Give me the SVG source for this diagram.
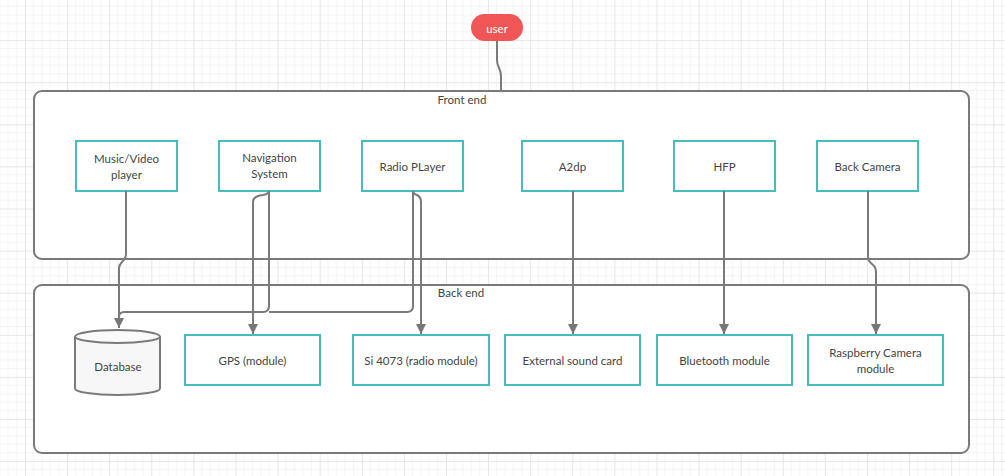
<svg xmlns="http://www.w3.org/2000/svg" width="1005" height="476" viewBox="0 0 1005 476">
<defs>
<pattern id="grid" patternUnits="userSpaceOnUse" x="25" y="-2" width="42.1" height="42.1">
<path d="M8.42 0V42.1M16.84 0V42.1M25.26 0V42.1M33.68 0V42.1M0 8.42H42.1M0 16.84H42.1M0 25.26H42.1M0 33.68H42.1" stroke="#f4f4f4" stroke-width="1" fill="none"/>
<path d="M0.5 0V42.1M0 0.5H42.1" stroke="#e6e6e6" stroke-width="1" fill="none"/>
</pattern>
<marker id="arr" markerWidth="12" markerHeight="10" refX="10" refY="5" orient="auto" markerUnits="userSpaceOnUse">
<path d="M0,0 L10,5 L0,10 Z" fill="#777"/>
</marker>
<style>
.box{fill:#fff;stroke:#45bdbd;stroke-width:2}
.cont{fill:#fff;stroke:#7a7a7a;stroke-width:2}
.t{font-family:Lato,"Liberation Sans",sans-serif;font-size:11.5px;fill:#444;text-anchor:middle}
.c{fill:none;stroke:#7a7a7a;stroke-width:2}
</style>
</defs>
<rect width="1005" height="476" fill="#fff"/>
<rect width="1005" height="476" fill="url(#grid)"/>

<g id="frontend">
<rect class="cont" x="34" y="91" width="935" height="168" rx="8"/>
<text class="t" x="462" y="104">Front end</text>
</g>
<g id="backend">
<rect class="cont" x="34" y="285" width="935" height="168" rx="8"/>
<text class="t" x="461" y="297">Back end</text>
</g>

<g id="user">
<rect x="471" y="14" width="52" height="27" rx="13.5" fill="#f05656"/>
<text class="t" x="497" y="33" style="fill:#fff">user</text>
</g>

<g id="music"><rect class="box" x="76" y="141" width="101" height="50"/><text class="t" x="126.5" y="163">Music/Video</text><text class="t" x="126.5" y="179">player</text></g>
<g id="nav"><rect class="box" x="219" y="141" width="101" height="50"/><text class="t" x="269.5" y="162">Navigation</text><text class="t" x="269.5" y="178">System</text></g>
<g id="radio"><rect class="box" x="362" y="141" width="101" height="50"/><text class="t" x="412.5" y="171">Radio PLayer</text></g>
<g id="a2dp"><rect class="box" x="522" y="141" width="101" height="50"/><text class="t" x="572.5" y="171">A2dp</text></g>
<g id="hfp"><rect class="box" x="674" y="141" width="101" height="50"/><text class="t" x="724.5" y="171">HFP</text></g>
<g id="backcam"><rect class="box" x="817" y="141" width="101" height="50"/><text class="t" x="867.5" y="171">Back Camera</text></g>

<g id="database">
<path d="M75,336.5 V388.5 A42.5,6.5 0 0 0 160,388.5 V336.5" fill="#f7f7f7" stroke="#7a7a7a" stroke-width="2"/>
<ellipse cx="117.5" cy="336.5" rx="42.5" ry="6.5" fill="#fafafa" stroke="#7a7a7a" stroke-width="2"/>
<text class="t" x="118" y="371">Database</text>
</g>
<g id="gps"><rect class="box" x="185" y="335" width="135" height="50"/><text class="t" x="252.5" y="365">GPS (module)</text></g>
<g id="si4073"><rect class="box" x="353" y="335" width="136" height="50"/><text class="t" x="421" y="365">Si 4073 (radio module)</text></g>
<g id="sound"><rect class="box" x="505" y="335" width="135" height="50"/><text class="t" x="572.5" y="365">External sound card</text></g>
<g id="bt"><rect class="box" x="657" y="335" width="135" height="50"/><text class="t" x="724.5" y="365">Bluetooth module</text></g>
<g id="rpicam"><rect class="box" x="808" y="335" width="135" height="50"/><text class="t" x="875.5" y="357">Raspberry Camera</text><text class="t" x="875.5" y="373">module</text></g>

<g id="connectors">
<path class="c" d="M497,41 V60 Q497,64 499,68 Q501,72 501,76 V91"/>
<path class="c" d="M126,191 V254 Q126,258 122,262 Q119,265 119,268 V328" marker-end="url(#arr)"/>
<path class="c" d="M269,191 V306 Q269,312 263,312 H124 Q119,312 119,317"/>
<path class="c" d="M413,191 V306 Q413,312 407,312 H269"/>
<path class="c" d="M269,191 Q269,194 263,195 Q253,196 253,202 V334" marker-end="url(#arr)"/>
<path class="c" d="M413,191 Q413,194 417,195 Q421,197 421,202 V334" marker-end="url(#arr)"/>
<path class="c" d="M573,191 V334" marker-end="url(#arr)"/>
<path class="c" d="M724,191 V334" marker-end="url(#arr)"/>
<path class="c" d="M868,191 V257 Q868,261 872,264 Q876,267 876,272 V334" marker-end="url(#arr)"/>
</g>
</svg>
